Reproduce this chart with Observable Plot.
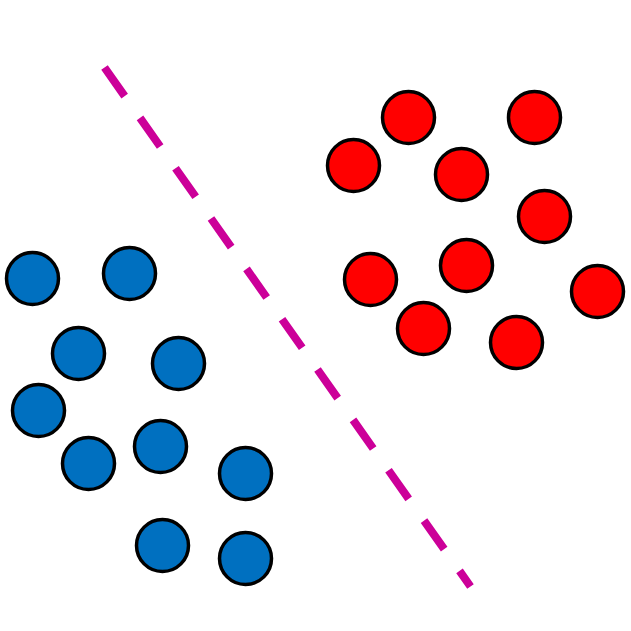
<!DOCTYPE html>
<html>
<head>
<meta charset="utf-8">
<script src="https://cdn.jsdelivr.net/npm/d3@7"></script>
<script src="https://cdn.jsdelivr.net/npm/@observablehq/plot@0.6"></script>
<style>
  html, body { margin: 0; padding: 0; background: #fff; }
</style>
</head>
<body>
<div id="chart"></div>
<script>
// Class A (blue) points
const blueX = [32, 129, 78, 178, 38, 88, 160, 245, 162, 245];
const blueY = [278, 273, 353, 363, 410, 463, 446, 473, 545, 558];
// Class B (red) points
const redX = [408, 534, 353, 461, 544, 466, 370, 597, 423, 516];
const redY = [117, 117, 165, 174, 216, 265, 279, 291, 328, 342];
// Separating line endpoints
const lineX = [104, 470];
const lineY = [67, 586];

const blue = blueX.map((x, i) => ({x, y: blueY[i]}));
const red = redX.map((x, i) => ({x, y: redY[i]}));
const sep = lineX.map((x, i) => ({x, y: lineY[i]}));

const chart = Plot.plot({
  width: 631,
  height: 631,
  margin: 0,
  x: {domain: [0, 631], range: [0, 631], axis: null},
  y: {domain: [0, 631], range: [0, 631], axis: null},
  marks: [
    Plot.line(sep, {x: "x", y: "y", stroke: "#CC0099", strokeWidth: 8, strokeDasharray: "35,26.6", strokeLinecap: "butt"}),
    Plot.dot(blue, {x: "x", y: "y", r: 26, fill: "#0070C0", stroke: "#000", strokeWidth: 3.5}),
    Plot.dot(red, {x: "x", y: "y", r: 26, fill: "#FF0000", stroke: "#000", strokeWidth: 3.5})
  ]
});
document.getElementById("chart").appendChild(chart);
</script>
</body>
</html>
